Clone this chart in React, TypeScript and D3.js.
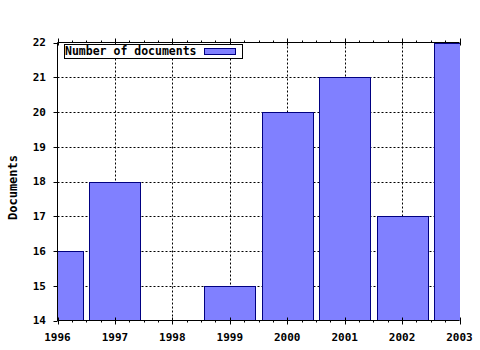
import React from "react";
import * as d3 from "d3";

const years = [1996, 1997, 1998, 1999, 2000, 2001, 2002, 2003];
const documents = [16, 18, 14, 15, 20, 21, 17, 22];
const yTicks = [14, 15, 16, 17, 18, 19, 20, 21, 22];
const seriesName = "Number of documents";
const yTitle = "Documents";

const W = 480;
const H = 350;
const left = 57.5;
const right = 459.5;
const top = 42.5;
const bottom = 320.5;

export default function App() {
  const x = d3.scaleLinear().domain([1996, 2003]).range([left, right]);
  const y = d3.scaleLinear().domain([14, 22]).range([bottom, top]);
  const step = x(1997) - x(1996);
  const barW = step * 0.89;
  const minor: number[] = [];
  for (let i = 0; i < years.length - 1; i++) {
    for (let k = 1; k < 4; k++) minor.push(years[i] + k / 4);
  }
  const font = "'DejaVu Sans Mono', monospace";
  return (
    <svg
      width={W}
      height={H}
      style={{ position: "absolute", left: 0, top: 0, background: "#fff" }}
    >
      <defs>
        <clipPath id="plot">
          <rect x={left} y={top - 1} width={right - left + 0.5} height={bottom - top + 1} />
        </clipPath>
      </defs>
      {/* grid */}
      <g stroke="#000" strokeWidth={1} strokeDasharray="2,2">
        {yTicks.slice(1, -1).map((v) => (
          <line key={"h" + v} x1={left} x2={right} y1={Math.round(y(v)) + 0.5} y2={Math.round(y(v)) + 0.5} />
        ))}
        {years.slice(1, -1).map((v) => (
          <line key={"v" + v} x1={Math.round(x(v)) + 0.5} x2={Math.round(x(v)) + 0.5} y1={top} y2={bottom} />
        ))}
      </g>
      {/* bars */}
      <g clipPath="url(#plot)">
        {years.map((yr, i) =>
          documents[i] > 14 ? (
            <rect
              key={yr}
              x={Math.round(x(yr) - barW / 2) + 0.5}
              y={Math.round(y(documents[i])) + 0.5}
              width={Math.round(barW)}
              height={Math.round(y(14)) - Math.round(y(documents[i]))}
              fill="#8080ff"
              stroke="#000080"
              strokeWidth={1}
            />
          ) : null
        )}
      </g>
      {/* axes */}
      <g stroke="#000" strokeWidth={1}>
        <line x1={left} x2={left} y1={top} y2={bottom + 0.5} />
        <line x1={left} x2={right} y1={bottom} y2={bottom} />
        <line x1={left} x2={right} y1={top} y2={top} />
        {yTicks.map((v) => (
          <line key={"yt" + v} x1={left - 4} x2={left} y1={Math.round(y(v)) + 0.5} y2={Math.round(y(v)) + 0.5} />
        ))}
        {years.map((v) => (
          <g key={"xt" + v}>
            <line x1={Math.round(x(v)) + 0.5} x2={Math.round(x(v)) + 0.5} y1={bottom - 3} y2={bottom + 4} />
            <line x1={Math.round(x(v)) + 0.5} x2={Math.round(x(v)) + 0.5} y1={top - 4} y2={top + 3} />
          </g>
        ))}
        {minor.map((v) => (
          <g key={"mt" + v}>
            <line x1={Math.round(x(v)) + 0.5} x2={Math.round(x(v)) + 0.5} y1={bottom} y2={bottom + 2} />
            <line x1={Math.round(x(v)) + 0.5} x2={Math.round(x(v)) + 0.5} y1={top - 2} y2={top} />
          </g>
        ))}
      </g>
      {/* tick labels */}
      <g fontFamily={font} fontWeight="bold" fontSize={11} fill="#000">
        {yTicks.map((v) => (
          <text key={"yl" + v} x={46} y={y(v)} dy="0.35em" textAnchor="end">
            {v}
          </text>
        ))}
        {years.map((v) => (
          <text key={"xl" + v} x={x(v)} y={341} textAnchor="middle">
            {v}
          </text>
        ))}
      </g>
      <text
        transform={`translate(17,${(top + bottom) / 2 + 6}) rotate(-90)`}
        textAnchor="middle"
        fontFamily={font}
        fontWeight="bold"
        fontSize={12}
      >
        {yTitle}
      </text>
      {/* legend */}
      <rect x={64.5} y={44.5} width={178} height={14} fill="#fff" stroke="#000" />
      <text x={65} y={55} fontFamily={font} fontWeight="bold" fontSize={11.5}>
        {seriesName}
      </text>
      <rect x={204.5} y={48.5} width={31} height={6} fill="#8080ff" stroke="#000080" />
    </svg>
  );
}
